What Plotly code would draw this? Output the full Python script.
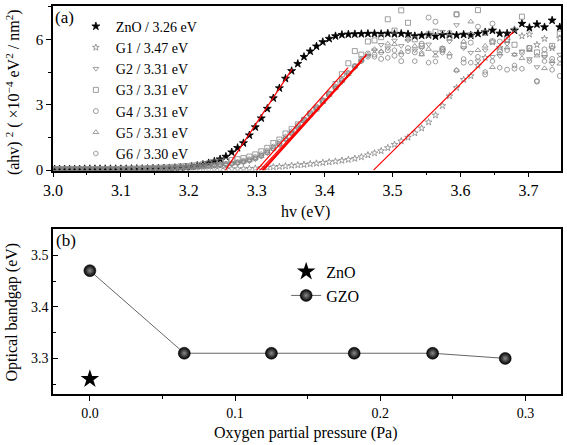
import plotly.graph_objects as go

# ---------------- data: panel (a) ----------------
# sampling grid of the spectra (wavelength, nm) -> photon energy hv = 1240/lambda
wavelength_nm = list(range(413, 330, -1))
hv = [1240.0 / w for w in wavelength_nm]

zno = [0.04,0.04,0.04,0.04,0.04,0.04,0.05,0.05,0.05,0.05,0.05,0.05,0.05,0.05,0.05,0.06,0.06,0.06,0.06,0.07,0.07,0.08,0.09,
       0.10,0.11,0.13,0.16,0.20,0.25,0.32,0.40,0.50,0.62,
       0.82,1.02,1.24,1.60,1.97,2.38,2.82,3.30,3.76,4.20,
       4.55,4.88,5.20,5.45,5.68,5.88,6.03,6.15,6.21,6.23,
       6.24,6.25,6.26,
       6.26,6.25,6.27,6.25,6.26,6.24,6.15,6.18,6.20,6.14,
       6.20,6.21,6.19,6.22,6.18,6.26,6.33,6.41,6.27,6.27,
       6.41,6.72,6.53,6.69,6.56,6.87,6.56]

g1 = [0.03]*23 + [
       0.03,0.03,0.04,0.04,0.04,0.04,0.04,0.05,0.05,0.05,
       0.05,0.05,0.06,0.07,0.08,0.10,0.12,0.14,0.16,0.18,
       0.21,0.23,0.25,0.28,0.31,0.34,0.37,0.40,0.44,0.48,
       0.53,0.60,0.69,
       0.78,0.88,1.02,1.17,1.33,1.50,1.70,1.92,2.20,2.52,
       2.95,3.40,3.78,4.15,4.32,4.80,5.16,5.88,5.62,5.95,
       6.46,6.15,6.23,5.75,6.03,5.60,6.05]

g2 = [0.04]*13 + [0.05,0.05,0.05,0.06,0.06,0.07,0.07,0.08,0.09,0.10,
       0.10,0.11,0.12,0.13,0.14,0.15,0.17,0.19,0.21,0.23,
       0.26,0.30,0.35,0.41,0.50,0.62,0.77,0.95,1.15,1.40,
       1.66,1.92,2.22,2.52,2.82,3.12,3.42,3.74,4.05,4.38,
       4.70,5.00,5.25,
       5.50,5.75,5.60,5.95,5.70,5.95,5.50,5.60,5.77,5.40,
       6.35,5.90,6.66,5.60,5.39,5.00,5.50,5.20,5.24,5.80,
       5.30,5.45,5.10,4.73,5.20,4.88,5.30]

g3 = [0.05]*13 + [0.06,0.06,0.07,0.07,0.08,0.09,0.10,0.11,0.12,0.13,
       0.15,0.17,0.19,0.21,0.24,0.27,0.31,0.35,0.39,0.42,
       0.46,0.50,0.55,0.62,0.72,0.86,1.02,1.24,1.40,1.68,
       1.88,2.10,2.30,2.60,2.82,3.17,3.50,3.95,4.40,4.90,
       5.46,5.30,5.90,
       5.95,6.10,6.92,6.40,7.33,6.76,6.00,5.70,6.23,6.35,
       5.55,6.10,7.15,5.70,6.20,7.34,6.30,5.90,5.50,6.00,
       5.75,7.04,5.60,5.40,5.30,5.70,6.26]

g4 = [0.04]*12 + [0.05,0.05,0.05,0.06,0.06,0.07,0.08,0.08,0.09,0.10,0.11,
       0.12,0.13,0.14,0.15,0.16,0.18,0.20,0.22,0.24,0.27,
       0.30,0.34,0.39,0.45,0.54,0.66,0.82,1.00,1.20,1.44,
       1.70,1.97,2.26,2.56,2.86,3.16,3.47,3.80,4.12,4.45,
       4.78,5.10,5.35,
       5.30,5.10,5.50,5.25,5.00,5.60,5.40,5.80,7.00,6.81,
       5.50,6.30,7.14,4.93,5.85,6.58,4.39,6.72,5.90,4.61,
       4.66,5.39,5.60,4.06,5.54,5.10,4.32]

g5 = [0.04]*13 + [0.05,0.05,0.05,0.05,0.06,0.06,0.07,0.08,0.09,0.10,
       0.11,0.12,0.13,0.14,0.15,0.17,0.19,0.21,0.23,0.26,
       0.29,0.33,0.38,0.44,0.53,0.64,0.79,0.97,1.17,1.41,
       1.68,1.95,2.24,2.54,2.84,3.14,3.45,3.77,4.09,4.41,
       4.74,5.05,5.30,
       5.55,5.45,5.80,5.77,5.40,5.99,5.69,5.30,5.55,5.25,
       5.60,5.34,4.59,5.90,6.81,5.50,5.70,4.72,5.35,5.62,
       5.30,5.13,5.50,5.25,4.67,5.00,4.88]

g6 = [0.04]*12 + [0.05,0.05,0.06,0.06,0.07,0.07,0.08,0.09,0.10,0.11,0.12,
       0.13,0.14,0.15,0.17,0.18,0.20,0.22,0.24,0.26,0.29,
       0.32,0.37,0.43,0.50,0.60,0.73,0.89,1.08,1.29,1.53,
       1.78,2.05,2.33,2.62,2.92,3.22,3.52,3.83,4.14,4.45,
       4.75,5.00,5.20,
       5.20,5.40,5.15,5.50,5.30,5.45,5.00,5.35,4.93,4.98,
       5.40,5.20,4.57,5.10,4.93,5.20,4.50,5.00,4.70,5.50,
       4.80,4.65,5.00,4.09,5.00,4.60,5.10]

series_names = ["ZnO / 3.26 eV", "G1 / 3.47 eV", "G2 / 3.31 eV", "G3 / 3.31 eV",
                "G4 / 3.31 eV", "G5 / 3.31 eV", "G6 / 3.30 eV"]
series_values = [zno, g1, g2, g3, g4, g5, g6]
series_symbols = ["star", "star-open", "triangle-down-open", "square-open",
                  "circle-open", "triangle-up-open", "hexagon-open"]

# linear fits (start energy at zero, end energy, end value)
fit_start = [3.254, 3.472, 3.310, 3.300, 3.310, 3.308, 3.305]
fit_end_e = [3.352, 3.678, 3.455, 3.4345, 3.462, 3.460, 3.450]
fit_end_v = [4.63, 6.35, 5.00, 4.70, 5.31, 5.24, 4.85]

# ---------------- data: panel (b) ----------------
pressure_gzo = [0.0, 0.065, 0.125, 0.182, 0.236, 0.286]
gap_gzo = [3.47, 3.31, 3.31, 3.31, 3.31, 3.30]
pressure_zno = [0.0]
gap_zno = [3.26]

FONT = "Liberation Serif"
GRAY = "#858585"

fig = go.Figure()

for name, vals, sym in zip(series_names, series_values, series_symbols):
    is_zno = name.startswith("ZnO")
    fig.add_trace(go.Scatter(
        x=hv, y=vals, mode="markers", name=name,
        marker=dict(symbol=sym, size=6 if is_zno else 5,
                    color="black" if is_zno else GRAY,
                    line=dict(width=0.8, color="black" if is_zno else GRAY)),
        xaxis="x", yaxis="y", legend="legend"))

for s, e, v in zip(fit_start, fit_end_e, fit_end_v):
    fig.add_trace(go.Scatter(
        x=[s, e], y=[0, v], mode="lines", showlegend=False,
        line=dict(color="#ff0000", width=1.2), xaxis="x", yaxis="y"))

fig.add_trace(go.Scatter(
    x=pressure_zno, y=gap_zno, mode="markers", name="ZnO",
    marker=dict(symbol="star", size=14, color="black"),
    xaxis="x2", yaxis="y2", legend="legend2"))
fig.add_trace(go.Scatter(
    x=pressure_gzo, y=gap_gzo, mode="lines+markers", name="GZO",
    line=dict(color="#666666", width=1),
    marker=dict(symbol="circle", size=12, color="black",
                gradient=dict(type="radial", color="#8a8a8a"),
                line=dict(width=0.5, color="black")),
    xaxis="x2", yaxis="y2", legend="legend2"))

axis_common = dict(showline=True, linecolor="black", linewidth=1.5, mirror=True,
                   showgrid=False, zeroline=False, ticks="outside",
                   tickcolor="black", tickwidth=1.2, ticklen=5)

fig.update_layout(
    width=567, height=445,
    margin=dict(l=53, r=4, t=5, b=51),
    paper_bgcolor="white", plot_bgcolor="white",
    font=dict(family=FONT, size=16, color="black"),
    xaxis=dict(domain=[0, 1], anchor="y", range=[3.0, 3.748], dtick=0.1, tick0=3.0,
               tickformat=".1f", tickfont=dict(size=16),
               minor=dict(dtick=0.05, ticklen=3, ticks="outside", tickcolor="black"),
               **axis_common),
    yaxis=dict(domain=[0.576, 1], anchor="x", range=[-0.02, 7.53], tickvals=[0, 3, 6],
               tickfont=dict(size=15),
               minor=dict(dtick=1.5, ticklen=3, ticks="outside", tickcolor="black"),
               **axis_common),
    xaxis2=dict(domain=[0, 1], anchor="y2", range=[-0.0254, 0.3244], dtick=0.1, tick0=0,
                tickformat=".1f", tickfont=dict(size=14),
                minor=dict(dtick=0.05, ticklen=3, ticks="outside", tickcolor="black"),
                **axis_common),
    yaxis2=dict(domain=[0, 0.4242], anchor="x2", range=[3.231, 3.550], dtick=0.1, tick0=3.3,
                tickformat=".1f", tickfont=dict(size=14),
                **{k: v for k, v in axis_common.items() if k != "ticks"},
                ticks="inside",
                minor=dict(dtick=0.05, ticklen=3, ticks="inside", tickcolor="black")),
    legend=dict(x=0.045, y=0.988, xanchor="left", yanchor="top",
                bgcolor="rgba(0,0,0,0)", font=dict(size=14), itemsizing="trace"),
    legend2=dict(x=0.459, y=0.359, xanchor="left", yanchor="top",
                 bgcolor="rgba(0,0,0,0)", font=dict(size=16)),
    annotations=[
        dict(text="(ahv) <sup>2</sup> ( ×10<sup>−4</sup> eV<sup>2</sup> / nm<sup>2</sup>)",
             xref="paper", yref="paper", x=-0.078, y=0.779, textangle=-90,
             showarrow=False, xanchor="center", yanchor="middle", font=dict(size=16)),
        dict(text="hv (eV)", xref="paper", yref="paper", x=0.498, y=0.468,
             showarrow=False, xanchor="center", yanchor="middle", font=dict(size=16)),
        dict(text="Optical bandgap (eV)", xref="paper", yref="paper", x=-0.08, y=0.211,
             textangle=-90, showarrow=False, xanchor="center", yanchor="middle",
             font=dict(size=16)),
        dict(text="Oxygen partial pressure (Pa)", xref="paper", yref="paper", x=0.498,
             y=-0.100, showarrow=False, xanchor="center", yanchor="middle",
             font=dict(size=16)),
        dict(text="(a)", xref="paper", yref="paper", x=0.0235, y=0.970,
             showarrow=False, xanchor="center", yanchor="middle", font=dict(size=17)),
        dict(text="(b)", xref="paper", yref="paper", x=0.0255, y=0.396,
             showarrow=False, xanchor="center", yanchor="middle", font=dict(size=17)),
    ],
)

fig.write_html("out.html", config={"displayModeBar": False},
               post_script="document.body.style.margin='0';")
